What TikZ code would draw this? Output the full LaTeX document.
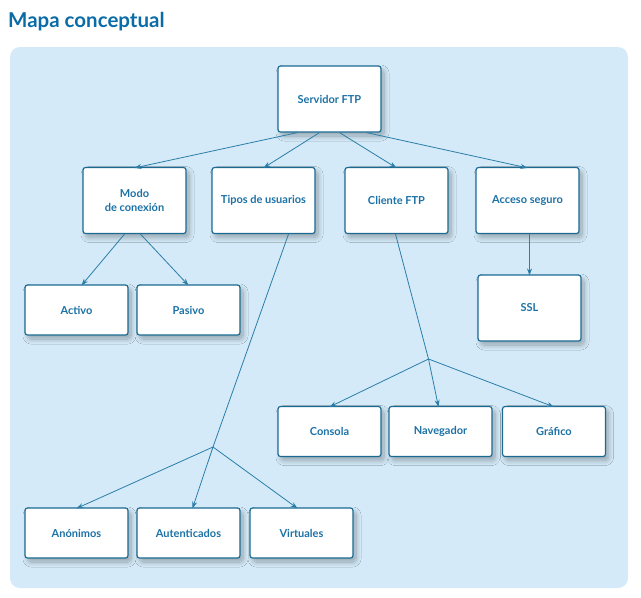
\documentclass[tikz,border=0pt]{standalone}
\usepackage{fontspec}
\setmainfont{Lato}
\usetikzlibrary{arrows.meta,shadows.blur}
\definecolor{panel}{HTML}{D4EAF8}
\definecolor{boxline}{HTML}{1B6A92}
\definecolor{txt}{HTML}{1C72A6}
\definecolor{edge}{HTML}{2B7EA8}
\definecolor{titlec}{HTML}{0A6CA6}
\begin{document}
\begin{tikzpicture}[x=1pt,y=-1pt,
  concept/.style={draw=boxline,line width=1.2pt,fill=white,rounded corners=2.5pt,
    minimum width=103pt,align=center,text=txt,font=\fontsize{11}{14}\selectfont\bfseries,
    blur shadow={shadow xshift=3pt,shadow yshift=-4pt,shadow blur radius=5pt,shadow opacity=30,shadow blur steps=12,shadow blur extra rounding=3pt}},
  tall/.style={concept,minimum height=66pt},
  short/.style={concept,minimum height=50pt},
  link/.style={draw=edge,line width=0.8pt,-{Stealth[length=7pt,width=5pt]}},
  plain/.style={draw=edge,line width=0.8pt}]
\useasboundingbox (0,0) rectangle (641,598);
\fill[panel,rounded corners=10pt] (10,47) rectangle (628,588);
\node[anchor=base west,inner sep=0pt,text=titlec,font=\fontsize{20.5}{24}\selectfont\bfseries] (title) at (8,27) {Mapa conceptual};
\node[tall] (srv) at (329.5,99) {Servidor FTP};
\node[tall] (modo) at (134.5,200.5) {Modo\\de conexión};
\node[tall] (tipos) at (263.5,200.5) {Tipos de usuarios};
\node[tall] (cli) at (396.5,200.5) {Cliente FTP};
\node[tall] (acc) at (527.5,200.5) {Acceso seguro};
\node[short] (act) at (76.5,310) {Activo};
\node[short] (pas) at (188.5,310) {Pasivo};
\node[tall] (ssl) at (529.5,308) {SSL};
\node[short] (con) at (329.5,431.5) {Consola};
\node[short] (nav) at (440.5,431.5) {Navegador};
\node[short] (gra) at (554,431.5) {Gráfico};
\node[short] (ano) at (76.5,533) {Anónimos};
\node[short] (aut) at (188.5,533) {Autenticados};
\node[short] (vir) at (301.5,533) {Virtuales};
% junctions
\coordinate (j1) at (213,447);
\coordinate (j2) at (428.5,359);
% edges from Servidor
\draw[link] ([xshift=-32pt]srv.south) -- ([yshift=-1pt]modo.north);
\draw[link] ([xshift=-10pt]srv.south) -- ([yshift=-1pt]tipos.north);
\draw[link] ([xshift=10pt]srv.south) -- ([yshift=-1pt]cli.north);
\draw[link] ([xshift=37pt]srv.south) -- ([yshift=-1pt]acc.north);
% Modo
\draw[link] ([xshift=-10pt]modo.south) -- ([xshift=5pt,yshift=-1pt]act.north);
\draw[link] ([xshift=6pt]modo.south) -- ([yshift=-1pt]pas.north);
% Acceso
\draw[link] ([xshift=2pt]acc.south) -- ([yshift=-1pt]ssl.north);
% Tipos
\draw[plain] ([xshift=25pt]tipos.south) -- (j1);
\draw[link] (j1) -- ([xshift=0pt,yshift=-1pt]ano.north);
\draw[link] (j1) -- ([xshift=4pt,yshift=-1pt]aut.north);
\draw[link] (j1) -- ([xshift=-4pt,yshift=-1pt]vir.north);
% Cliente
\draw[plain] ([xshift=-1pt]cli.south) -- (j2);
\draw[link] (j2) -- ([yshift=-1pt]con.north);
\draw[link] (j2) -- ([xshift=-2pt,yshift=-1pt]nav.north);
\draw[link] (j2) -- ([yshift=-1pt]gra.north);
\end{tikzpicture}
\end{document}
